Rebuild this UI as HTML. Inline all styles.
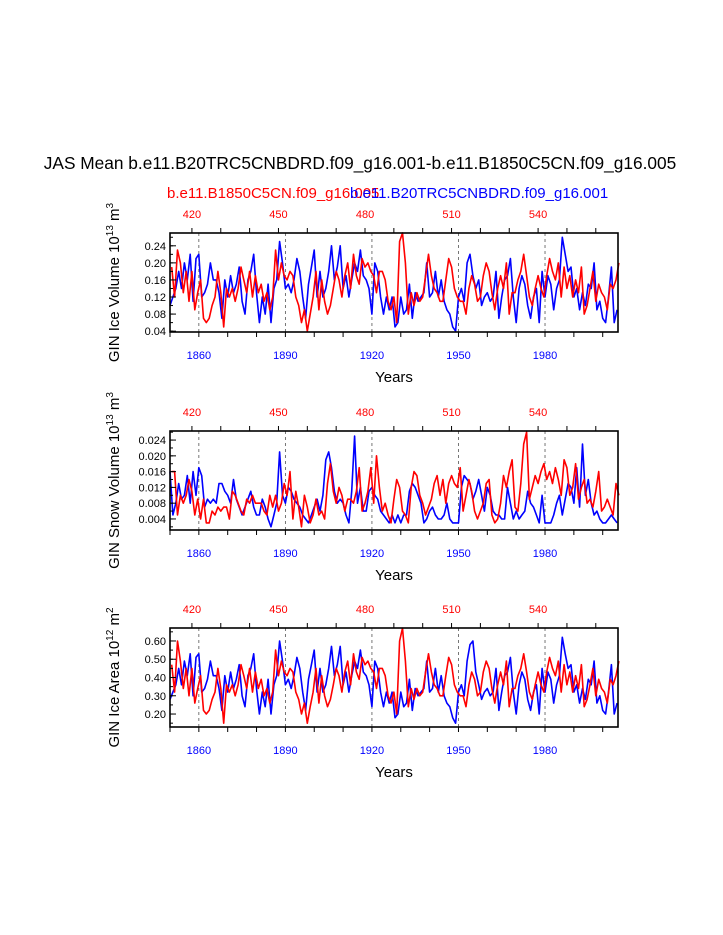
<!DOCTYPE html>
<html><head><meta charset="utf-8"><style>
html,body{margin:0;padding:0;background:#fff;}
svg{display:block;font-family:"Liberation Sans",sans-serif;}
</style></head><body>
<svg id="chart" width="723" height="935" viewBox="0 0 723 935" xmlns="http://www.w3.org/2000/svg">
<text x="360" y="169" font-size="17.3" text-anchor="middle">JAS Mean b.e11.B20TRC5CNBDRD.f09_g16.001-b.e11.B1850C5CN.f09_g16.005</text>
<text x="167" y="198" font-size="15" fill="#ff0000">b.e11.B1850C5CN.f09_g16.005</text>
<text x="350" y="198" font-size="15" fill="#0000ff">b.e11.B20TRC5CNBDRD.f09_g16.001</text>
<g id="panels"></g>
</svg>
<script>
const blueYears0 = 1850;
const redYears0 = 413;
const volBlue = [.10,.12,.14,.18,.14,.20,.16,.22,.11,.21,.22,.12,.13,.15,.20,.16,.16,.13,.07,.16,.12,.17,.13,.15,.19,.11,.08,.16,.18,.22,.13,.06,.12,.08,.15,.06,.14,.16,.25,.20,.14,.15,.13,.16,.21,.18,.12,.07,.15,.19,.23,.12,.18,.12,.14,.18,.24,.16,.19,.24,.14,.17,.12,.16,.20,.18,.23,.17,.16,.14,.08,.20,.18,.12,.08,.12,.09,.12,.05,.06,.12,.08,.09,.15,.07,.13,.11,.12,.13,.20,.12,.13,.18,.12,.16,.11,.09,.08,.05,.04,.12,.14,.11,.20,.22,.17,.14,.16,.10,.12,.13,.11,.12,.18,.07,.12,.16,.17,.21,.12,.06,.14,.17,.15,.10,.07,.12,.14,.06,.18,.12,.17,.15,.09,.14,.16,.26,.22,.18,.19,.12,.14,.09,.13,.10,.15,.14,.20,.09,.11,.07,.06,.12,.19,.06,.09];
const volRed = [.19,.12,.23,.20,.13,.18,.11,.18,.09,.13,.16,.07,.06,.07,.10,.12,.18,.13,.05,.14,.12,.14,.11,.14,.19,.16,.13,.18,.12,.17,.13,.15,.11,.13,.09,.12,.23,.16,.20,.17,.16,.18,.17,.12,.10,.06,.09,.04,.08,.12,.18,.09,.16,.11,.08,.10,.14,.18,.16,.12,.17,.20,.14,.22,.17,.15,.21,.19,.20,.18,.17,.13,.18,.18,.16,.11,.09,.12,.06,.25,.27,.20,.08,.13,.10,.13,.11,.12,.17,.22,.17,.14,.13,.11,.11,.16,.21,.19,.14,.12,.11,.11,.08,.14,.17,.15,.11,.12,.17,.20,.18,.13,.09,.14,.17,.14,.20,.08,.13,.13,.16,.18,.22,.17,.12,.10,.14,.17,.14,.12,.17,.21,.18,.16,.20,.12,.19,.14,.17,.12,.16,.13,.19,.08,.10,.14,.18,.11,.15,.13,.12,.09,.15,.14,.16,.20];
const snowBlue = [.016,.005,.008,.013,.009,.010,.015,.008,.016,.010,.017,.015,.007,.009,.008,.009,.008,.013,.013,.011,.010,.008,.014,.009,.007,.005,.007,.009,.011,.007,.005,.005,.009,.007,.004,.002,.005,.008,.021,.010,.008,.012,.011,.009,.008,.007,.005,.004,.003,.005,.007,.009,.006,.010,.019,.021,.017,.011,.008,.009,.008,.005,.003,.011,.025,.008,.012,.006,.006,.011,.012,.010,.009,.006,.005,.004,.003,.005,.003,.005,.003,.005,.005,.011,.013,.012,.010,.008,.003,.004,.006,.007,.005,.004,.004,.005,.008,.004,.003,.003,.003,.012,.015,.014,.013,.009,.011,.014,.010,.006,.012,.010,.006,.005,.005,.004,.004,.012,.008,.004,.006,.004,.005,.006,.011,.008,.007,.005,.003,.010,.003,.003,.003,.005,.008,.010,.005,.009,.013,.012,.008,.017,.007,.023,.010,.014,.008,.005,.006,.004,.003,.003,.004,.005,.004,.003];
const snowRed = [.016,.016,.005,.010,.008,.010,.014,.011,.005,.009,.004,.009,.003,.003,.006,.005,.007,.006,.007,.007,.004,.011,.010,.008,.006,.005,.009,.008,.010,.008,.008,.008,.006,.005,.010,.007,.010,.006,.008,.013,.010,.016,.004,.011,.007,.002,.010,.007,.003,.005,.009,.005,.006,.004,.013,.018,.011,.008,.012,.010,.006,.009,.009,.008,.011,.017,.006,.008,.011,.017,.008,.020,.012,.006,.008,.005,.003,.009,.014,.012,.006,.005,.003,.012,.016,.015,.010,.008,.005,.007,.009,.013,.015,.010,.014,.008,.013,.015,.013,.012,.017,.006,.010,.014,.011,.006,.004,.006,.008,.013,.014,.005,.003,.004,.008,.015,.012,.016,.019,.007,.006,.013,.023,.026,.009,.012,.015,.013,.016,.018,.014,.016,.013,.017,.014,.010,.019,.017,.010,.012,.018,.009,.012,.014,.008,.009,.007,.011,.016,.006,.007,.009,.007,.005,.013,.010];
const areaBlue = [.28,.32,.36,.45,.36,.49,.41,.53,.30,.51,.53,.32,.34,.39,.49,.41,.41,.34,.22,.41,.32,.43,.34,.39,.47,.30,.24,.41,.45,.53,.34,.20,.32,.24,.39,.20,.36,.41,.60,.49,.36,.39,.34,.41,.51,.45,.32,.22,.39,.47,.55,.32,.45,.32,.36,.45,.57,.41,.47,.57,.36,.43,.32,.41,.49,.45,.55,.43,.41,.36,.24,.49,.45,.32,.24,.32,.26,.32,.18,.20,.32,.24,.26,.39,.22,.34,.30,.32,.34,.49,.32,.34,.45,.32,.41,.30,.26,.24,.18,.15,.32,.36,.30,.49,.58,.60,.43,.36,.28,.32,.34,.30,.32,.45,.22,.32,.41,.43,.51,.32,.20,.36,.43,.39,.28,.22,.32,.36,.20,.45,.32,.43,.39,.26,.36,.41,.62,.53,.45,.47,.32,.36,.26,.34,.28,.39,.36,.49,.26,.30,.22,.20,.32,.47,.20,.26];
const areaRed = [.47,.32,.60,.49,.34,.45,.30,.45,.26,.34,.41,.22,.20,.22,.28,.32,.45,.34,.15,.36,.32,.36,.30,.36,.47,.41,.34,.45,.32,.43,.34,.39,.30,.34,.26,.32,.55,.41,.49,.43,.41,.45,.43,.32,.28,.20,.26,.15,.24,.32,.45,.26,.41,.30,.24,.28,.36,.45,.41,.32,.43,.49,.36,.53,.43,.39,.51,.47,.49,.45,.43,.34,.45,.45,.41,.30,.26,.32,.20,.60,.67,.49,.24,.34,.28,.34,.30,.32,.43,.53,.43,.36,.34,.30,.30,.41,.51,.47,.36,.32,.30,.30,.24,.36,.43,.39,.30,.32,.43,.49,.45,.34,.26,.36,.43,.36,.49,.24,.34,.34,.41,.45,.53,.43,.32,.28,.36,.43,.36,.32,.43,.51,.45,.41,.49,.32,.47,.36,.43,.32,.41,.34,.47,.24,.28,.36,.45,.30,.39,.34,.32,.26,.39,.36,.41,.49];
const bottomTicks = [1860,1890,1920,1950,1980];
const topTicks = [420,450,480,510,540];
const ticks1 = [0.04,0.08,0.12,0.16,0.20,0.24];
const ticks2 = [0.004,0.008,0.012,0.016,0.020,0.024];
const ticks3 = [0.20,0.30,0.40,0.50,0.60];

const NS="http://www.w3.org/2000/svg";
const g=document.getElementById('panels');
const X0=170,X1=618;
const bx=y=>X0+(y-1850)*(X1-X0)/155.3;
const tx=y=>X0+(y-412.4)*(X1-X0)/155.3;
function mk(tag,attrs,parent){const e=document.createElementNS(NS,tag);for(const k in attrs)e.setAttribute(k,attrs[k]);(parent||g).appendChild(e);return e;}

const panels=[
 {top:233,bot:332,min:0.038,max:0.270,ticks:ticks1,minor:0.02,dec:2,blue:volBlue,red:volRed,title:['GIN Ice Volume 10','13',' m','3'],name:'ice-volume'},
 {top:431,bot:530,min:0.0012,max:0.0263,ticks:ticks2,minor:0.002,dec:3,blue:snowBlue,red:snowRed,title:['GIN Snow Volume 10','13',' m','3'],name:'snow-volume'},
 {top:628,bot:727,min:0.129,max:0.671,ticks:ticks3,minor:0.05,dec:2,blue:areaBlue,red:areaRed,title:['GIN Ice Area 10','12',' m','2'],name:'ice-area'}
];
panels.forEach(p=>{
 const pg=mk('g',{});
 
 
 const sy=v=>p.bot-(v-p.min)*(p.bot-p.top)/(p.max-p.min);
 bottomTicks.forEach(t=>{const l=mk('line',{x1:bx(t),x2:bx(t),y1:p.top,y2:p.bot,stroke:'#555','stroke-width':0.8,'stroke-dasharray':'3,3'},pg);
  });
 [['blue',p.blue,'#0000ff',i=>bx(blueYears0+i)],['red',p.red,'#ff0000',i=>tx(redYears0+i)]].forEach(([nm,arr,col,xf])=>{
  const d=arr.map((v,i)=>(i?'L':'M')+xf(i).toFixed(1)+','+sy(v).toFixed(1)).join('');
  const path=mk('path',{d:d,fill:'none',stroke:col,'stroke-width':1.6,'stroke-linejoin':'round'},pg);
  
  
 });
 mk('rect',{x:X0,y:p.top,width:X1-X0,height:p.bot-p.top,fill:'none',stroke:'#000','stroke-width':1.6},pg);
 for(let y=1850;y<=2005;y+=10){mk('line',{x1:bx(y),x2:bx(y),y1:p.bot,y2:p.bot+5,stroke:'#000','stroke-width':1},pg);}
 for(let y=420;y<=560;y+=10){mk('line',{x1:tx(y),x2:tx(y),y1:p.top,y2:p.top-5,stroke:'#000','stroke-width':1},pg);}
 bottomTicks.forEach(t=>{const e=mk('text',{x:bx(t),y:p.bot+27,'font-size':11,'text-anchor':'middle',fill:'#0000ff'},pg);e.textContent=t;
  });
 topTicks.forEach(t=>{const e=mk('text',{x:tx(t),y:p.top-15,'font-size':11,'text-anchor':'middle',fill:'#ff0000'},pg);e.textContent=t;
  });
 for(let v=Math.ceil(p.min/p.minor)*p.minor;v<=p.max;v+=p.minor){mk('line',{x1:X0,x2:X0+3,y1:sy(v),y2:sy(v),stroke:'#000','stroke-width':1},pg);}
 p.ticks.forEach(v=>{mk('line',{x1:X0,x2:X0+6,y1:sy(v),y2:sy(v),stroke:'#000','stroke-width':1},pg);
  const e=mk('text',{x:X0-4,y:sy(v)+4,'font-size':11,'text-anchor':'end'},pg);e.textContent=v.toFixed(p.dec);
  });
 const xt=mk('text',{x:394,y:p.bot+50,'font-size':15,'text-anchor':'middle'},pg);xt.textContent='Years';
 
 const cy=(p.top+p.bot)/2;
 const yt=mk('text',{x:0,y:0,'font-size':15,'text-anchor':'middle',transform:`translate(119,${cy}) rotate(-90)`},pg);
 
 p.title.forEach((s,i)=>{const ts=mk('tspan',{},yt);ts.textContent=s;if(i%2){ts.setAttribute('font-size','10');ts.setAttribute('dy','-6');}else if(i>0){ts.setAttribute('dy','6');}});
});
</script>
</body></html>
